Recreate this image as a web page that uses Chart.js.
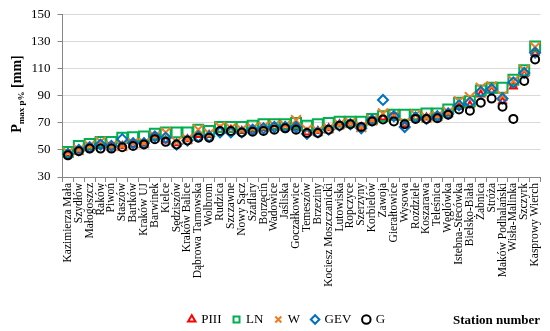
<!DOCTYPE html>
<html><head><meta charset="utf-8">
<script src="https://cdn.jsdelivr.net/npm/chart.js@4"></script>
<style>html,body{margin:0;padding:0;background:#fff}</style>
</head><body>
<canvas id="c" width="550" height="331"></canvas>
<script>
const stations = ["Kazimierza Mała","Szydłów","Małogoszcz","Raków","Piwoń","Staszów","Bartków","Kraków UJ","Barwinek","Kielce","Sędziszów","Kraków Balice","Dąbrowa Tarnowska","Wolbrom","Rudzica","Szczawne","Nowy Sącz","Szaflary","Borzęcin","Wadowice","Jaśliska","Goczałkowice","Temeszów","Brzeziny","Kociesz Moszczanicki","Lutowiska","Ropczyce","Szerzyny","Korbielów","Zawoja","Gierałtowice","Wysowa","Rozdziele","Koszarawa","Teleśnica","Węglówka","Istebna-Stecówka","Bielsko-Biała","Żabnica","Stróża","Maków Podhalański","Wisła-Malinka","Szczyrk","Kasprowy Wierch"];
const piii = [47,50,52,53,52,53,54,55,59,57,55,58,61,61,65,65,64,65,66,67,67,67,63,64,66,69,69,67,72,74,74,69,74,74,75,77,82,83,91,94,86,97,106,122];
const ln   = [48.5,53,54.5,56,56,59,59.5,60,62,63,63,63,65,64,67,67,67,68,69,69,69,70,68,69,70,71,71,71,73,75,76,76,76,77,77,80,85,86,94,96,96,102,109,126.5];
const w    = [48,50,53,56,53,53,55,55,60,63,56,58,65,62,67,66,65,66,67,68,68,72,65,64,66,69,70,67,72,77,75,70,76,74,75,78,86,89,96,97,90,101,109,126];
const gev  = [47,50,52,54,53,58,55,55,60,59,54,57,60,60,63,63,63,65,66,67,67,67,62,63,65,68,69,66,72,87,75,67,74,73,75,77,83,85,93,95,88,100,107,122];
const g    = [46,49,51,51,51,52,53,54,58,56,54,57,59,59,64,64,63,63.5,64,65,66,65,62.5,62.5,65,68,69,67,71,72.5,71,69,73,73,73.5,76,80,79,85,88,82,73,101,117];
const yTicks = [30,50,70,90,110,130,150];

const SERIF = '"Liberation Serif", "Times New Roman", serif';

const extraText = {
  id: 'extraText',
  afterDraw(chart) {
    const ctx = chart.ctx;
    ctx.save();
    ctx.fillStyle = '#000';
    const big = 'bold 14px ' + SERIF;
    const small = 'bold 9px ' + SERIF;
    const parts = [['P', big, 0], ['max p%', small, 3], [' [mm]', big, 0]];
    let total = 0;
    parts.forEach(p => { ctx.font = p[1]; total += ctx.measureText(p[0]).width; });
    ctx.translate(21, 94);
    ctx.rotate(-Math.PI / 2);
    ctx.textBaseline = 'alphabetic';
    let x = -total / 2;
    parts.forEach(p => { ctx.font = p[1]; ctx.fillText(p[0], x, p[2]); x += ctx.measureText(p[0]).width; });
    ctx.restore();
    ctx.save();
    ctx.font = 'bold 13px ' + SERIF;
    ctx.fillStyle = '#000';
    ctx.textBaseline = 'middle';
    ctx.fillText('Station number', 453, 321);
    ctx.restore();
  }
};

function ds(label, data, color, style, radius, order) {
  return { label, data, borderColor: color, backgroundColor: 'rgba(0,0,0,0)',
    pointStyle: style, pointRadius: radius, pointHoverRadius: radius,
    pointBorderWidth: 2, borderWidth: 2, showLine: false, order };
}

new Chart(document.getElementById('c'), {
  type: 'line',
  data: {
    labels: stations,
    datasets: [
      ds('PIII', piii, '#FF0000', 'triangle', 4, 5),
      ds('LN', ln, '#00B050', 'rect', 7, 4),
      ds('W', w, '#F47B20', 'crossRot', 7, 3),
      ds('GEV', gev, '#0070C0', 'rectRot', 5, 2),
      ds('G', g, '#000000', 'circle', 4, 1)
    ]
  },
  options: {
    responsive: false,
    animation: false,
    devicePixelRatio: 1,
    layout: { padding: { top: 3, right: 0, left: 24, bottom: -5 } },
    plugins: {
      legend: {
        position: 'bottom',
        labels: { usePointStyle: true, boxWidth: 6, boxHeight: 6, padding: 12,
          sort: (a, b) => a.datasetIndex - b.datasetIndex,
          font: { family: SERIF, size: 13 }, color: '#000' }
      },
      tooltip: { enabled: false }
    },
    scales: {
      x: {
        offset: true,
        afterFit: s => { s.height = 124; },
        grid: { offset: true, drawOnChartArea: false, tickLength: 5, color: '#868686' },
        border: { color: '#868686' },
        ticks: { autoSkip: false, maxRotation: 90, minRotation: 90, padding: 1,
          font: { family: SERIF, size: 11.5 }, color: '#000' }
      },
      y: {
        min: 30, max: 150,
        afterBuildTicks: s => { s.ticks = yTicks.map(v => ({ value: v })); },
        grid: { color: '#D9D9D9', tickLength: 5, tickColor: '#868686' },
        border: { color: '#868686' },
        ticks: { font: { family: SERIF, size: 13 }, color: '#000', padding: 7 }
      }
    }
  },
  plugins: [extraText]
});
</script>
</body></html>
